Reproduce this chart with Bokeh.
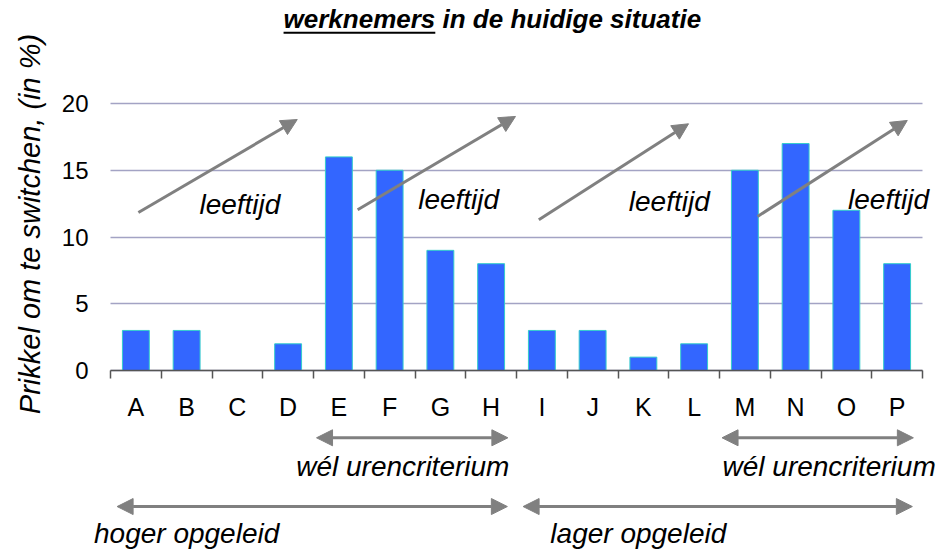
import math
from bokeh.plotting import figure
from bokeh.models import (Range1d, FixedTicker, Label, Arrow, NormalHead,
                          ColumnDataSource)
from bokeh.embed import file_html
from bokeh.resources import INLINE

# ---- data ----
categories = ["A", "B", "C", "D", "E", "F", "G", "H",
              "I", "J", "K", "L", "M", "N", "O", "P"]
values = [3, 3, 0, 2, 16, 15, 9, 8, 3, 3, 1, 2, 15, 17, 12, 8]
y_ticks = [0, 5, 10, 15, 20]

title_main = "werknemers"
title_rest = " in de huidige situatie"
y_label = "Prikkel om te switchen,  (in %)"
age_label = "leeftijd"
hours_label = "wél urencriterium"
high_label = "hoger opgeleid"
low_label = "lager opgeleid"

# ---- layout (pixels) ----
W, H = 946, 550
PLOT_L, PLOT_R, PLOT_T, PLOT_B = 110, 922, 103, 370
N = len(categories)
YMAX = 20
px_x = (PLOT_R - PLOT_L) / N
px_y = (PLOT_B - PLOT_T) / YMAX
x_range = Range1d(-PLOT_L / px_x, N + (W - PLOT_R) / px_x)
y_range = Range1d(-(H - PLOT_B) / px_y, YMAX + PLOT_T / px_y)
LDY = 9 / px_y  # label vertical correction

FONT = "Liberation Sans"
GRAY = "#808080"

centers = [i + 0.5 for i in range(N)]
bounds = [i for i in range(N + 1)]

src = ColumnDataSource(dict(x=centers, top=values, cat=categories))

p = figure(width=W, height=H, x_range=x_range, y_range=y_range,
           output_backend="svg", toolbar_location=None, min_border=0)
p.outline_line_color = None
p.background_fill_color = "white"
p.border_fill_color = "white"

# grid
p.xgrid.visible = False
p.ygrid.ticker = FixedTicker(ticks=y_ticks)
p.ygrid.grid_line_color = "#A3A3C4"
p.ygrid.grid_line_width = 1.5
p.ygrid.cross_bounds = (0, N)

p.vbar(x="x", top="top", width=0.53, source=src,
       fill_color="#3366FF", line_color="#33CCCC", line_width=1)

# x axis
xa = p.xaxis[0]
xa.fixed_location = 0
xa.bounds = (0, N)
xa.ticker = FixedTicker(ticks=centers, minor_ticks=bounds)
xa.major_label_overrides = {c: lab for c, lab in zip(centers, categories)}
xa.major_tick_out = 0
xa.major_tick_in = 0
xa.minor_tick_out = 8
xa.minor_tick_in = 0
xa.minor_tick_line_color = "#555555"
xa.minor_tick_line_width = 1.5
xa.axis_line_color = "#555555"
xa.axis_line_width = 1.5
xa.major_label_standoff = 14
xa.major_label_text_font = FONT
xa.major_label_text_font_size = "25px"
xa.major_label_text_color = "black"

# y axis
ya = p.yaxis[0]
ya.fixed_location = 0
ya.bounds = (0, YMAX)
ya.ticker = FixedTicker(ticks=y_ticks)
ya.axis_line_color = None
ya.major_tick_line_color = None
ya.minor_tick_line_color = None
ya.major_tick_out = 0
ya.major_tick_in = 0
ya.major_label_standoff = 22
ya.major_label_text_font = FONT
ya.major_label_text_font_size = "24px"
ya.major_label_text_color = "black"

# title (underlined first word)
p.add_layout(Label(x=3.41, y=25.69 + LDY, text=title_main + title_rest,
                   text_font=FONT, text_font_size="26px",
                   text_font_style="bold italic", text_align="left",
                   text_baseline="alphabetic", text_color="black"))
p.add_layout(Arrow(start=None, end=None, x_start=3.41, y_start=25.3,
                   x_end=6.40, y_end=25.3, line_color="black", line_width=2))

# y label
p.add_layout(Label(x=-1.58, y=10.6 + LDY, text=y_label, angle=math.pi / 2,
                   text_font=FONT, text_font_size="29px",
                   text_font_style="italic", text_align="center",
                   text_baseline="middle", text_color="black"))

# age arrows
age_arrows = [(0.55, 11.84, 3.68, 18.80), (4.87, 12.04, 7.98, 19.03),
              (8.44, 11.29, 11.39, 18.48), (12.75, 11.54, 15.70, 18.73)]
for xs, ys, xe, ye in age_arrows:
    p.add_layout(Arrow(end=NormalHead(size=16, fill_color=GRAY, line_color=GRAY),
                       start=None, x_start=xs, y_start=ys, x_end=xe, y_end=ye,
                       line_color=GRAY, line_width=3))
age_pos = [(2.55, 11.78), (6.86, 12.11), (11.01, 11.99), (15.33, 12.11)]
for x, y in age_pos:
    p.add_layout(Label(x=x, y=y + LDY, text=age_label, text_font=FONT,
                       text_font_size="28px", text_font_style="italic",
                       text_align="center", text_baseline="alphabetic",
                       text_color="black"))

# bottom double arrows
double_arrows = [(4.06, 7.83, -5.04), (12.05, 15.82, -5.04),
                 (0.13, 7.82, -10.19), (8.13, 15.80, -10.19)]
for xs, xe, y in double_arrows:
    p.add_layout(Arrow(start=NormalHead(size=16, fill_color=GRAY, line_color=GRAY),
                       end=NormalHead(size=16, fill_color=GRAY, line_color=GRAY),
                       x_start=xs, y_start=y, x_end=xe, y_end=y,
                       line_color=GRAY, line_width=3))

bottom_labels = [(5.76, -7.87, hours_label), (14.16, -7.87, hours_label),
                 (1.50, -12.9, high_label), (10.40, -12.9, low_label)]
for x, y, t in bottom_labels:
    p.add_layout(Label(x=x, y=y + LDY, text=t, text_font=FONT,
                       text_font_size="28px", text_font_style="italic",
                       text_align="center", text_baseline="alphabetic",
                       text_color="black"))

open("out.html", "w").write(file_html(p, INLINE))
